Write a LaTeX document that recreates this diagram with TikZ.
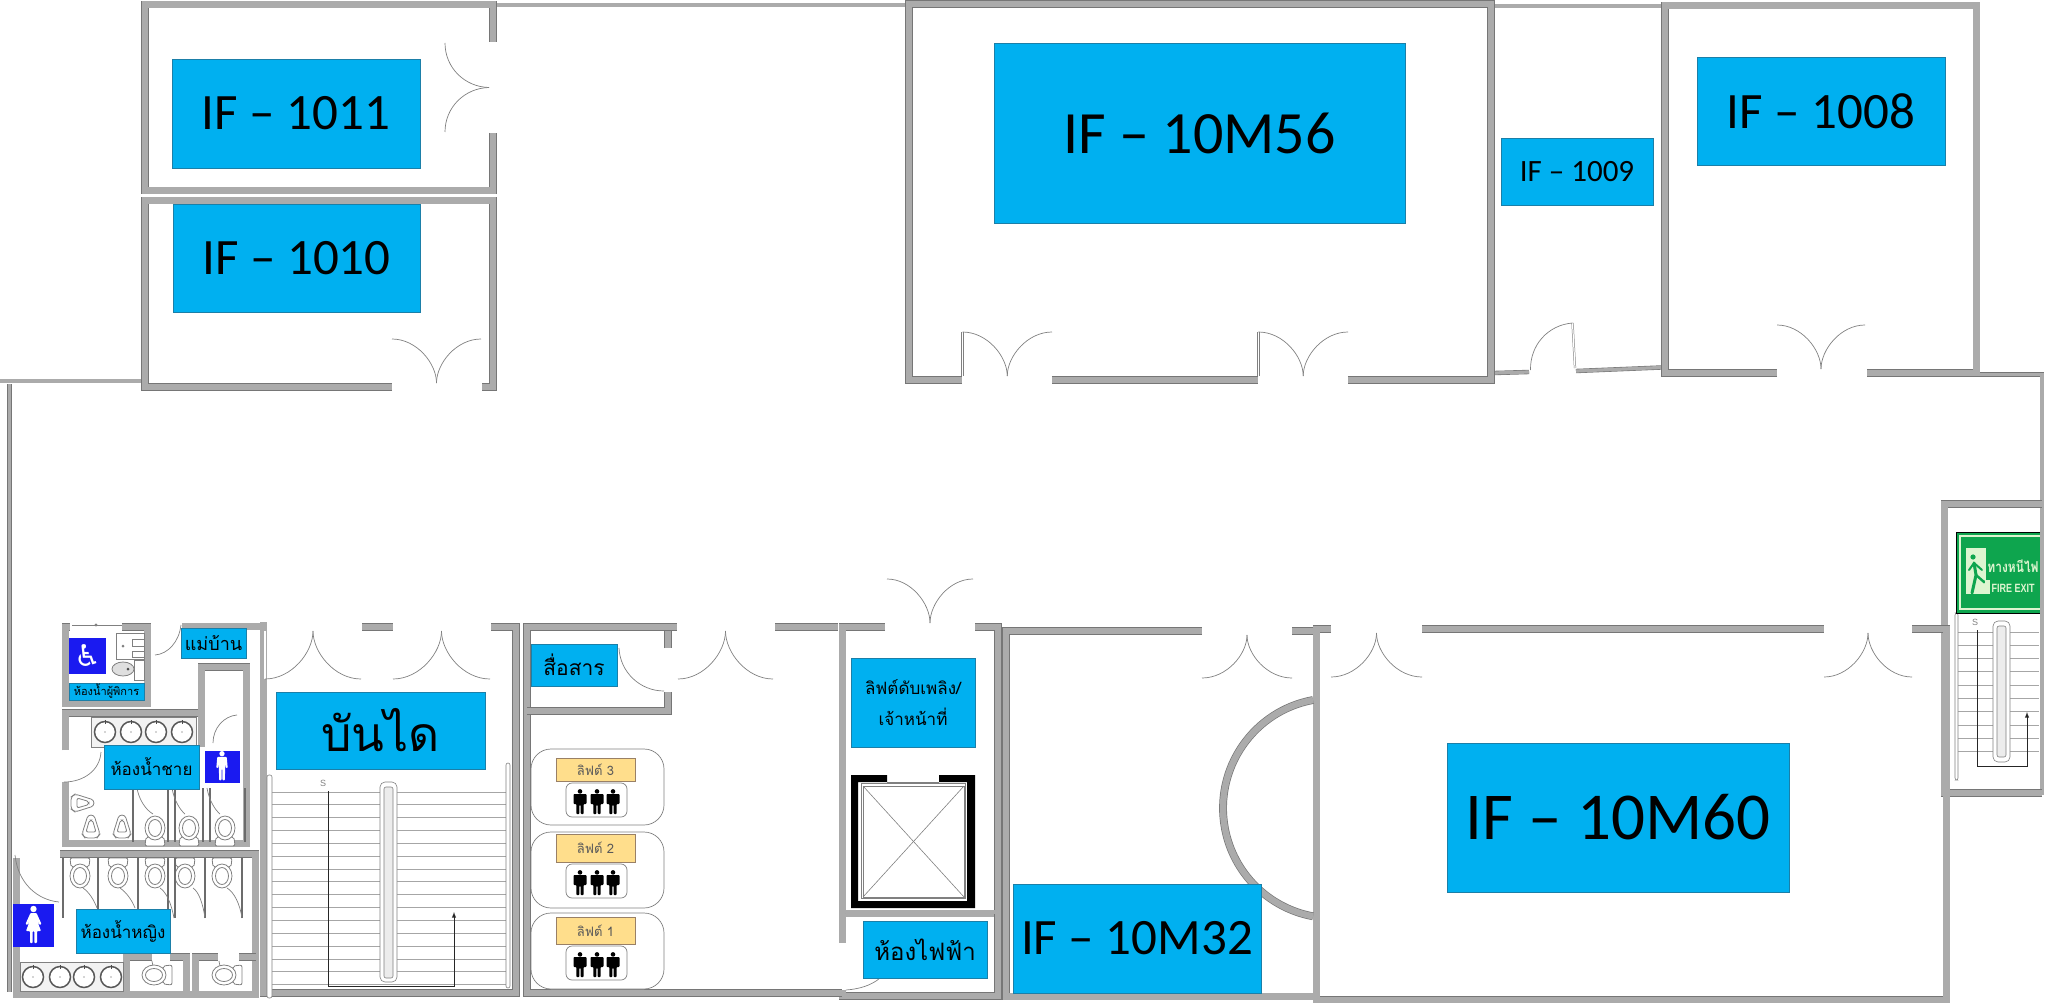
\documentclass[tikz,border=0pt]{standalone}
\usepackage{fontspec}
\setmainfont{Carlito}
\setsansfont{Liberation Sans}
\newfontfamily\thaifont[Script=Thai]{Loma}
\newfontfamily\symbfont{DejaVu Sans}
\definecolor{roomblue}{HTML}{00B0F0}
\definecolor{roomedge}{HTML}{1B7FA8}
\definecolor{wallfill}{HTML}{ABABAB}
\definecolor{walledge}{HTML}{767676}
\definecolor{signblue}{HTML}{1A1AF0}
\definecolor{liftgold}{HTML}{FFDE8C}
\definecolor{exitgreen}{HTML}{0EA54E}
\definecolor{exitpale}{HTML}{DDF5D0}
\tikzset{
  wall/.style={draw=walledge, line width=0.7pt, double=wallfill, double distance=6.4pt},
  thinwall/.style={draw=walledge, line width=0.6pt, double=wallfill, double distance=3.2pt},
  leaf/.style={draw=gray, line width=0.5pt, double=white, double distance=1.2pt},
  swing/.style={draw=gray, line width=0.7pt},
  fixture/.style={draw=gray, line width=0.8pt, fill=white},
  partition/.style={draw=gray!85!black, line width=1.8pt},
  tread/.style={draw=gray!70, line width=1pt},
  rail/.style={draw=gray, line width=0.6pt, fill=white, rounded corners=2pt},
  route/.style={draw=black!85, line width=0.9pt},
  room/.style={draw=roomedge, line width=0.5pt, fill=roomblue, inner sep=0pt, align=center},
  thairoom/.style={room, font=\thaifont},
  liftbay/.style={draw=gray, line width=0.7pt, fill=white, rounded corners=20pt},
  liftsign/.style={draw=gray!80!orange, line width=0.5pt, fill=liftgold, inner sep=0pt, text=black!65, font=\thaifont\fontsize{13}{13}\selectfont},
  peoplebox/.style={draw=gray, line width=0.7pt, fill=white, rounded corners=6pt},
  person/.pic={
    \fill (0,-10.6) circle[radius=2.3pt];
    \fill[rounded corners=0.8pt] (-6.5,-8)--(6.5,-8)--(6.5,2)--(3.6,2)--(3.6,12)--(0.7,12)--(0.7,3)--(-0.7,3)--(-0.7,12)--(-3.6,12)--(-3.6,2)--(-6.5,2)--cycle;
  },
  slimperson/.pic={
    \fill (0,-13) circle[radius=2.8pt];
    \fill[rounded corners=0.8pt] (-5,-9.5)--(5,-9.5)--(6,2)--(4,2)--(3.4,-3)--(3,15)--(0.5,15)--(0.4,3)--(-0.4,3)--(-0.5,15)--(-3,15)--(-3.4,-3)--(-4,2)--(-6,2)--cycle;
  },
  dressperson/.pic={
    \fill (0,-15) circle[radius=3.2pt];
    \fill[rounded corners=0.8pt] (-3,-11)--(3,-11)--(8,0)--(6,1)--(3,-5)--(7.5,7)--(3.5,7)--(3.5,19)--(0.8,19)--(0.8,7)--(-0.8,7)--(-0.8,19)--(-3.5,19)--(-3.5,7)--(-7.5,7)--(-3,-5)--(-6,1)--(-8,0)--cycle;
  },
  toilet/.pic={
    \draw[fixture, rounded corners=2pt] (-10,-16)--(10,-16)--(9,-7)--(-9,-7)--cycle;
    \draw[fixture] (0,2) ellipse[x radius=10pt, y radius=12pt];
    \draw[fixture] (0,2) ellipse[x radius=6.5pt, y radius=8.5pt];
  },
  urinal/.pic={
    \draw[fixture, rounded corners=3pt] (-3,-12)--(3,-12)--(9,7)--(6,11)--(-6,11)--(-9,7)--cycle;
    \draw[fixture, rounded corners=2pt] (-1.5,-7)--(1.5,-7)--(5,5)--(-5,5)--cycle;
  },
  basin/.pic={
    \draw[draw=gray!70!black, line width=1.5pt, fill=white] (0,0) circle[radius=10.5pt];
    \draw[draw=black!70, line width=0.8pt] (0,-12) -- (0,-8);
    \fill[black!70] (0,0) circle[radius=0.7pt];
  },
}
\begin{document}
\begin{tikzpicture}[x=1pt, y=-1pt]
\useasboundingbox (0,0) rectangle (2048,1003);
% outer walls of the corridor
\draw[thinwall] (0,381) -- (141,381);
\draw[thinwall] (9.5,384) -- (9.5,992);
\draw[thinwall] (497,5) -- (905,5);
\draw[thinwall] (1495,6) -- (1661,6);
\draw[thinwall] (1494,373) -- (1529,372);
\draw[thinwall] (1576,371) -- (1661,367.5);
\draw[thinwall] (1973,374.5) -- (2042,374.5) -- (2042,795);
% upper rooms
\draw[wall] (493,42) -- (493,4.5) -- (145,4.5) -- (145,190.5) -- (493,190.5) -- (493,133);
\draw[wall] (392,387) -- (145,387) -- (145,200.5) -- (493,200.5) -- (493,387) -- (482,387);
\draw[wall] (962,380) -- (909,380) -- (909,4) -- (1491,4) -- (1491,380) -- (1348,380);
\draw[wall] (1052,380) -- (1258,380);
\draw[wall] (1777,373) -- (1665,373) -- (1665,5.5) -- (1976.5,5.5) -- (1976.5,373) -- (1867,373);
% lower rooms
\draw[wall] (2042,504) -- (1944.5,504) -- (1944.5,793) -- (2042,793);
\draw[wall] (1331,629) -- (1316.5,629) -- (1316.5,1000) -- (1946.5,1000) -- (1946.5,629) -- (1912,629);
\draw[wall] (1422,629) -- (1824,629);
\draw[wall] (1202,631) -- (1006,631) -- (1006,996.5) -- (1313,996.5);
\draw[wall] (1292,631) -- (1313,631);
\draw[wall] (1313,696.5+3.5) arc[start angle=100.5, end angle=259.5, radius=110pt];
\draw[wall] (885,627) -- (842.5,627) -- (842.5,913.5) -- (998,913.5) -- (998,627) -- (975,627);
\draw[wall] (842.5,913.5) -- (842.5,943);
\draw[wall] (842.5,990) -- (842.5,996) -- (998,996) -- (998,913.5);
\draw[wall] (668,648) -- (668,627) -- (527,627) -- (527,993) -- (842,993);
\draw[wall] (527,711) -- (668,711) -- (668,692);
\draw[wall] (664,627) -- (677,627);
\draw[wall] (775,627) -- (838,627);
\draw[wall] (491,627) -- (516,627) -- (516,993) -- (263.5,993) -- (263.5,622);
\draw[wall] (362,627) -- (393,627);
\draw[wall] (182,626.5) -- (263.5,626.5);
% toilets
\draw[wall] (122,627) -- (147.5,627) -- (147.5,703.5) -- (65.5,703.5) -- (65.5,627) -- (70,627);
\draw[wall] (65.5,750) -- (65.5,713) -- (198,713);
\draw[wall] (201.5,747) -- (201.5,667) -- (246.5,667) -- (246.5,843.5) -- (65.5,843.5) -- (65.5,782);
\draw[wall] (60,854) -- (255.5,854) -- (255.5,994.5) -- (16.5,994.5) -- (16.5,858);
\draw[wall] (152,957) -- (126.5,957) -- (126.5,994);
\draw[wall] (170,957) -- (186.5,957) -- (186.5,994);
\draw[wall] (218,957) -- (195.5,957) -- (195.5,994);
\draw[wall] (239,957) -- (255.5,957);
% double doors
\foreach \xa/\xb/\ya/\yb in {392/481/383/339, 962.5/1052/376/332, 1258.4/1348/376/332, 1777/1865/369/325,
    265/361/631/679, 393/490/631/679, 678/773/631/679, 887/973/623/579,
    1202/1292/635/678, 1331/1422/633/677, 1824/1912/633/677} {
  \draw[leaf] (\xa,\ya) -- (\xa,\yb);
  \draw[leaf] (\xb,\ya) -- (\xb,\yb);
  \draw[swing] (\xa,\yb) .. controls ({\xa+0.275*(\xb-\xa)},\yb) and ({(\xa+\xb)/2},{\ya+0.45*(\yb-\ya)}) .. ({(\xa+\xb)/2},\ya);
  \draw[swing] (\xb,\yb) .. controls ({\xb-0.275*(\xb-\xa)},\yb) and ({(\xa+\xb)/2},{\ya+0.45*(\yb-\ya)}) .. ({(\xa+\xb)/2},\ya);
}
% single doors and the side door of IF 1011
\draw[leaf] (489,43) -- (445,43);
\draw[leaf] (489,132) -- (445,132);
\draw[swing] (445,43) .. controls (445,68) and (465,87) .. (489,87.5);
\draw[swing] (445,132) .. controls (445,107) and (465,88) .. (489,87.5);
\draw[leaf] (1575,368) -- (1572.5,323);
\draw[swing] (1572.5,323) .. controls (1548,325) and (1530,345) .. (1530.5,370);
\draw[leaf] (664,648) -- (619,648);
\draw[swing] (619,648) .. controls (620,672) and (640,691) .. (664,691);
\draw[leaf] (155,625) -- (155,655);
\draw[swing] (155,655) .. controls (168,654) and (179,642) .. (181,625);
\draw[leaf] (64,752) -- (101,752);
\draw[swing] (101,752) .. controls (100,770) and (84,782) .. (64,782);
\draw[leaf] (237,743) -- (237,715);
\draw[swing] (237,715) .. controls (224,716) and (213,728) .. (213,743);
\draw[leaf] (59,861) -- (59,902);
\draw[swing] (59,902) .. controls (38,900) and (18,884) .. (15,855);
\draw[leaf] (170,961) -- (170,978);
\draw[swing] (170,978) .. controls (160,978) and (153,971) .. (152,961);
\draw[leaf] (239,961) -- (239,978);
\draw[swing] (239,978) .. controls (228,978) and (220,971) .. (219,961);
\draw[swing] (846,990) .. controls (860,989) and (872,985) .. (880,978);
% sliding door of the accessible toilet
\draw[swing] (72,625) -- (122,625);
\fill[gray] (96,625) circle[radius=1.6pt];
% main stair
\foreach \k in {0,...,15} {
  \draw[tread] (272,{792+12.85*\k}) -- (506,{792+12.85*\k});
}
\draw[rail] (267,775) rectangle (272,998);
\draw[rail] (506,763) rectangle (510,988);
\draw[rail, rounded corners=5pt] (380,782) rectangle (397,982);
\draw[rail, fill=gray!15] (384,787) rectangle (393,978);
\draw[route, -latex] (328,791) -- (328,986) -- (454,986) -- (454,912);
\node[text=gray, font=\sffamily\fontsize{9}{9}\selectfont] (mainmark) at (323,783) {S};
% fire stair
\foreach \k in {0,...,9} {
  \draw[tread] (1958,{632+13.3*\k}) -- (2039,{632+13.3*\k});
}
\draw[rail] (1955,613) rectangle (1958,780);
\draw[rail, rounded corners=5pt] (1993,621) rectangle (2010,762);
\draw[rail, fill=gray!15] (1997,626) rectangle (2006,757);
\draw[route, -latex] (1977,630) -- (1977,766) -- (2027,766) -- (2027,712);
\node[text=gray, font=\sffamily\fontsize{9}{9}\selectfont] (firemark) at (1975,622) {S};
% lift lobby
\foreach \n/\ybay/\ysign/\hsign/\ybox in {3/749/758/23/783, 2/832/834/28/864, 1/913/917/27/946} {
  \draw[liftbay] (531,\ybay) rectangle (664,\ybay+76);
  \node[liftsign, minimum width=79pt, minimum height=\hsign pt] (lift\n) at (595.5,\ysign+\hsign/2) {ลิฟต์ \n};
  \draw[peoplebox] (566,\ybox) rectangle (627,\ybox+34);
  \foreach \xp in {580,597,613} {
    \pic[black] at (\xp,\ybox+19) {person};
  }
}
% fire lift shaft
\fill[black] (851,775) -- (887,775) -- (887,782) -- (858,782) -- (858,901) -- (967,901) -- (967,782) -- (939,782) -- (939,775) -- (975,775) -- (975,908) -- (851,908) -- cycle;
\draw[gray, line width=0.6pt] (887,782) -- (939,782);
\draw[gray, line width=0.8pt] (861,783) rectangle (965,898);
\draw[gray, line width=0.6pt] (863,786) rectangle (964,897);
\draw[gray, line width=0.6pt] (863,786) -- (964,897);
\draw[gray, line width=0.6pt] (964,786) -- (863,897);
% accessible toilet fittings
\draw[fixture] (116,633) rectangle (144,659);
\draw[fixture] (132,639) rectangle (144,646);
\draw[fixture] (132,651) rectangle (144,657);
\fill[gray] (123,646) circle[radius=1.5pt];
\draw[fixture] (134,660) rectangle (144,680);
\draw[fixture, fill=gray!25] (123,669) ellipse[x radius=11pt, y radius=7pt];
\fill[black!70] (128,669) circle[radius=1.5pt];
% basins
\draw[fixture, fill=gray!10] (91,717) rectangle (196,747);
\foreach \xs in {105,131,156,182} {
  \pic at (\xs,732) {basin};
}
\draw[fixture, fill=gray!10] (20,962) rectangle (123,991);
\foreach \xs in {33,60,84,111} {
  \pic at (\xs,977) {basin};
}
% men's room
\pic[rotate=-90] at (82,803) {urinal};
\pic at (91,827) {urinal};
\pic at (122,827) {urinal};
\foreach \xs in {155,189,225} {
  \pic[rotate=180] at (\xs,830) {toilet};
}
\foreach \xs/\yt in {133/788, 168/788, 175/788, 203/788, 210/788, 245/788} {
  \draw[partition] (\xs,\yt) -- (\xs,842);
}
\draw[swing] (137,788) .. controls (139,800) and (146,810) .. (153,814);
\draw[swing] (172,788) .. controls (174,800) and (180,810) .. (185,814);
\draw[swing] (207,788) .. controls (209,800) and (215,810) .. (220,814);
% women's room
\foreach \xs in {80,118,155,185,222} {
  \pic at (\xs,874) {toilet};
}
\foreach \xs in {63,98,138,168,175,205,242} {
  \draw[partition] (\xs,858) -- (\xs,918);
}
\draw[swing] (83,888) .. controls (89,892) and (94,900) .. (97,908);
\draw[swing] (120,888) .. controls (126,892) and (132,900) .. (135,908);
\draw[swing] (160,888) .. controls (166,892) and (171,902) .. (174,918);
\draw[swing] (193,888) .. controls (199,892) and (203,904) .. (205,918);
\draw[swing] (227,888) .. controls (234,892) and (240,904) .. (242,918);
\pic[rotate=-90] at (156,975) {toilet};
\pic[rotate=-90] at (226,975) {toilet};
% signs
\node[fill=signblue, minimum width=37pt, minimum height=36pt, inner sep=0pt, text=white, font=\symbfont\fontsize{30}{30}\selectfont] (accessign) at (87.5,656) {♿};
\node[fill=signblue, draw=white, line width=0.8pt, minimum width=36pt, minimum height=33pt] (mansign) at (222,766.5) {};
\pic[white, scale=0.95] at (222,766) {slimperson};
\node[fill=signblue, minimum width=41pt, minimum height=43pt] (womansign) at (33.5,925.5) {};
\pic[white] at (33.5,924) {dressperson};
% room labels
\foreach \id/\cx/\cy/\w/\h/\fs in {1011/296/113.5/248/109/51, 1010/296.5/258/247/108/51,
    10M56/1199.5/133/411/180/60, 1009/1577/171.5/152/67/31, 1008/1821/111/248/108/51,
    10M60/1618/817.5/342/149/67, 10M32/1137/938.5/248/109/51} {
  \node[room, minimum width=\w pt, minimum height=\h pt, font=\fontsize{\fs}{\fs}\selectfont] (room\id) at (\cx,\cy) {IF – \id};
}
\foreach \key/\cx/\cy/\w/\h/\fs/\txt in {stair/380.5/730.5/209/77/48/บันได, maid/213.5/643/65/30/18/แม่บ้าน,
    acces/106.5/691.5/75/17/11/ห้องน้ำผู้พิการ, men/151.5/767/95/44/17/ห้องน้ำชาย,
    women/123/931/94/44/17/ห้องน้ำหญิง, comm/574/665/86/42/21/สื่อสาร, elec/925/949.5/124/57/24/ห้องไฟฟ้า} {
  \node[thairoom, minimum width=\w pt, minimum height=\h pt, font=\thaifont\fontsize{\fs}{\fs}\selectfont] (label\key) at (\cx,\cy) {\txt};
}
\node[thairoom, minimum width=124pt, minimum height=89pt, font=\thaifont\fontsize{17}{31}\selectfont] (labelfire) at (913,702.5) {ลิฟต์ดับเพลิง/\\เจ้าหน้าที่};
% fire exit sign
\draw[black, line width=0.7pt, fill=exitgreen] (2040,532) -- (1956,532) -- (1956,613) -- (2040,613);
\draw[exitpale, line width=1.5pt] (2040,536) -- (1960,536) -- (1960,609) -- (2040,609);
\fill[exitpale] (1966,548) rectangle (1986,594);
\fill[exitgreen] (1973,557) circle[radius=2.6pt];
\draw[exitgreen, line width=3pt, line cap=round] (1974,563) -- (1976,575) -- (1972,593);
\draw[exitgreen, line width=2pt, line cap=round] (1969,570) -- (1974,563) -- (1982,570);
\draw[exitgreen, line width=2.4pt, line cap=round] (1976,575) -- (1984,582) -- (1987,581);
\fill[exitpale] (1985,580) rectangle (1990,594);
\node[text=exitpale, inner sep=0pt, font=\thaifont\bfseries\fontsize{15}{15}\selectfont, xscale=0.8] (exitthai) at (2013,566) {ทางหนีไฟ};
\node[text=exitpale, inner sep=0pt, font=\sffamily\bfseries\fontsize{12}{12}\selectfont, xscale=0.75] (exiteng) at (2013,588) {FIRE EXIT};
\end{tikzpicture}
\end{document}
